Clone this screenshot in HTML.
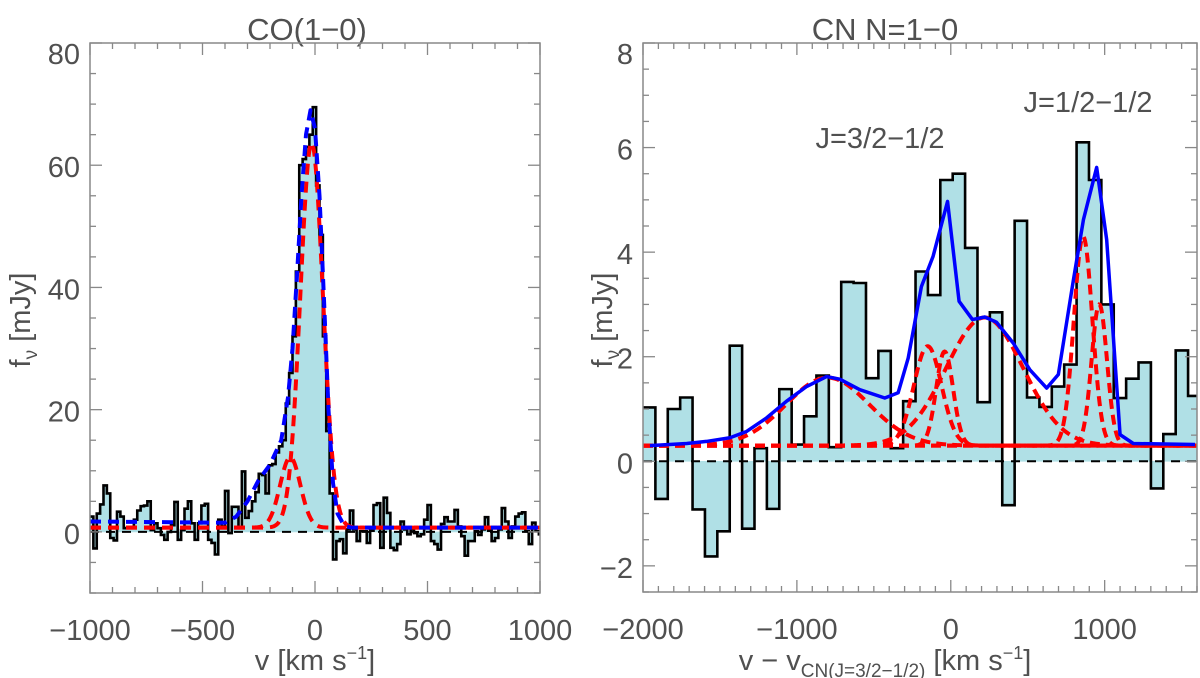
<!DOCTYPE html>
<html><head><meta charset="utf-8"><style>
html,body{margin:0;padding:0;background:#fff;}
svg{display:block;font-family:"Liberation Sans","DejaVu Sans",sans-serif;}
.tl{font-size:29px;fill:#505050;}
</style></head><body>
<svg id="chart" width="1200" height="678" viewBox="0 0 1200 678" xmlns="http://www.w3.org/2000/svg">
<defs>
<clipPath id="clipL"><rect x="90" y="43" width="450" height="550"/></clipPath>
<clipPath id="clipR"><rect x="643" y="43" width="554" height="550"/></clipPath>
</defs>
<text x="307" y="40" text-anchor="middle" class="tl" style="font-size:31px">CO(1−0)</text>
<text x="885" y="40" text-anchor="middle" class="tl" style="font-size:31px">CN N=1−0</text>
<text x="880" y="148" text-anchor="middle" class="tl">J=3/2−1/2</text>
<text x="1088" y="112" text-anchor="middle" class="tl">J=1/2−1/2</text>
<text x="315" y="670" text-anchor="middle" class="tl">v [km s<tspan dy="-11" font-size="18">−1</tspan><tspan dy="11">]</tspan></text>
<text x="885" y="670" text-anchor="middle" class="tl">v − v<tspan dy="7" font-size="19">CN(J=3/2−1/2)</tspan><tspan dy="-7"> [km s</tspan><tspan dy="-11" font-size="18">−1</tspan><tspan dy="11">]</tspan></text>
<text transform="translate(30,320) rotate(-90)" text-anchor="middle" class="tl">f<tspan dy="7" font-size="19">ν</tspan><tspan dy="-7"> [mJy]</tspan></text>
<text transform="translate(612,320) rotate(-90)" text-anchor="middle" class="tl">f<tspan dy="7" font-size="19">ν</tspan><tspan dy="-7"> [mJy]</tspan></text>
<g id="gL" clip-path="url(#clipL)"></g>
<g id="gR" clip-path="url(#clipR)"></g>
<g id="axes"></g>
</svg>
<script>
// ---- CO(1-0) data ----
const coBinStart = -1000;
const coBinWidth = 15;
const coFlux = [2.5,-2.7,3,4.5,7.6,6.3,-1,-1.4,3.3,2.5,
0.6,0.8,0.8,2,3.5,4.2,4.3,5,0.3,1.4,
0.6,-0.5,-1.3,0,1.1,4.9,-1.3,0.3,3.8,5,
1.4,-1.3,1.4,4.3,4.6,-1.3,-1.8,-3.7,2,0.9,
6.7,-0.2,4.1,4.1,0.6,9.9,2.3,3.4,5,6.5,
9.5,9.3,6.3,10.9,11.1,13,14,
15,21,26,32,42.6,60,61,63,65,69.5,56.7,48.6,32,16.5,6.3,
-4.5,-1.5,-1.2,-3.5,0.4,3.5,0.4,-1.5,0.1,0.1,
-1.8,0.2,4.4,4.7,-2.6,5.6,3.1,-2.6,-3,-2,
1.7,0.4,-0.4,0.4,-0.2,-0.7,-0.4,2,4.4,-1.5,
-2,-2.9,1.3,2.4,1.7,1.7,3.6,0.9,-0.7,-3.9,
-1.5,-1.5,0.1,-0.5,0.4,2.4,0.2,-1.5,-1,0.4,
3.9,1.7,-1,0.9,2.5,3,3.2,0.1,-2,1.5,
0.1,-0.4];
const coFitV = [-1000,-400,-350,-300,-250,-200,-150,-120,-100,-80,-60,-40,-20,0,20,40,60,80,100,130,160,1000];
const coFitF = [1.7,1.5,2.5,5,8.5,11,15,22,30,42,55,65,69,66,55,38,20,8,3,1,0.7,0.7];
const coCompCenter = [-15,-110];
const coCompAmp = [63,11.5];
const coCompSigma = [50,45];
const coBaseline = 0.7;
// ---- CN data ----
const cnBinStart = -2000;
const cnBinWidth = 80.5;
const cnFlux = [1.03,-0.72,1.0,1.22,-0.92,-1.82,-1.34,2.21,-1.29,0.25,
-0.91,1.38,0.32,0.86,1.64,0.27,3.43,3.41,1.59,2.11,
0.25,1.15,3.63,3.18,5.38,5.5,4.08,1.13,2.85,-0.84,
4.6,1.22,1.04,1.43,1.85,6.1,5.38,3.0,1.21,1.58,
1.89,-0.52,0.52,2.12,1.25];
const cnFitV = [-1955,-1716,-1587,-1435,-1327,-1197,-1067,-937,-807,-721,-591,-429,-342,-277,-191,-115,-21,54,141,221,297,406,514,623,699,797,862,948,1013,1100,1186,1587];
const cnFitF = [0.3,0.34,0.38,0.45,0.57,0.83,1.15,1.43,1.62,1.57,1.37,1.21,1.31,1.97,3.34,3.92,4.97,3.06,2.71,2.76,2.66,2.26,1.75,1.4,1.66,3.47,4.62,5.62,4.24,0.51,0.34,0.32];
const cnCompCenter = [-800,-150,-40,220,860,965];
const cnCompAmp = [1.3,1.9,1.8,2.45,4.0,2.7];
const cnCompSigma = [270,90,55,250,60,50];
const cnBaseline = 0.3;

const NS='http://www.w3.org/2000/svg';
function mk(tag, attrs, parent){const e=document.createElementNS(NS,tag);for(const k in attrs)e.setAttribute(k,attrs[k]);parent.appendChild(e);return e;}
const L={x0:90,x1:540,y0:593,y1:43,vmin:-1000,vmax:1000,fmin:-10,fmax:80};
const R={x0:643,x1:1197,y0:592,y1:43,vmin:-2000,vmax:1600,fmin:-2.5,fmax:8};
function sx(p,v){return p.x0+(v-p.vmin)/(p.vmax-p.vmin)*(p.x1-p.x0);}
function sy(p,f){return p.y0-(f-p.fmin)/(p.fmax-p.fmin)*(p.y0-p.y1);}

function drawHist(p,g,start,w,vals,name){
  let d='', fill='';
  const y0=sy(p,0);
  for(let i=0;i<vals.length;i++){
    const xa=sx(p,start+i*w), xb=sx(p,start+(i+1)*w), y=sy(p,vals[i]);
    fill+=`M${xa},${y0}L${xa},${y}L${xb},${y}L${xb},${y0}Z`;
    d+=(i===0?`M${xa},${y}`:`L${xa},${y}`)+`L${xb},${y}`;
  }
  const f=mk('path',{d:fill,fill:'#b0e0e6',stroke:'#b0e0e6','stroke-width':0.6},g);
  
  
  const o=mk('path',{d:d,fill:'none',stroke:'#000','stroke-width':2.6},g);
  
  
}
function drawZero(p,g,name){
  const l=mk('line',{x1:p.x0,x2:p.x1,y1:sy(p,0),y2:sy(p,0),stroke:'#000','stroke-width':2,'stroke-dasharray':'9 7'},g);
  
  
}
function drawComps(p,g,cs,as,ss,base,name,sw,dash){
  for(let k=0;k<cs.length;k++){
    let pts=[];
    for(let v=p.vmin;v<=p.vmax;v+=4){pts.push(sx(p,v)+','+sy(p,base+as[k]*Math.exp(-((v-cs[k])**2)/(2*ss[k]*ss[k]))));}
    const pl=mk('polyline',{points:pts.join(' '),fill:'none',stroke:'#ff0000','stroke-width':sw,'stroke-dasharray':dash},g);
    
    
  }
}
function drawLine(p,g,vs,fs,color,sw,dash,name){
  const pts=vs.map((v,i)=>sx(p,v)+','+sy(p,fs[i])).join(' ');
  const a={points:pts,fill:'none',stroke:color,'stroke-width':sw,'stroke-linejoin':'round'};
  if(dash)a['stroke-dasharray']=dash;
  const pl=mk('polyline',a,g);
  
  
}
function drawAxes(p,g,xMaj,xMin,yMaj,yMin,xLabels,yLabels,name){
  const ax=document.createElementNS(NS,'g');g.appendChild(ax);
  
  
  mk('rect',{x:p.x0,y:p.y1,width:p.x1-p.x0,height:p.y0-p.y1,fill:'none',stroke:'#888','stroke-width':1.5},ax);
  const st={stroke:'#888','stroke-width':1.3};
  for(let v=Math.ceil(p.vmin/xMin)*xMin;v<=p.vmax+1e-6;v+=xMin){
    const x=sx(p,v), major=Math.abs(v/xMaj-Math.round(v/xMaj))<1e-6, len=major?12:6;
    mk('line',Object.assign({x1:x,x2:x,y1:p.y0,y2:p.y0-len},st),ax);
    mk('line',Object.assign({x1:x,x2:x,y1:p.y1,y2:p.y1+len},st),ax);
  }
  for(let f=Math.ceil(p.fmin/yMin)*yMin;f<=p.fmax+1e-6;f+=yMin){
    const y=sy(p,f), major=Math.abs(f/yMaj-Math.round(f/yMaj))<1e-6, len=major?12:6;
    mk('line',Object.assign({x1:p.x0,x2:p.x0+len,y1:y,y2:y},st),ax);
    mk('line',Object.assign({x1:p.x1,x2:p.x1-len,y1:y,y2:y},st),ax);
  }
  xLabels.forEach(v=>{const t=mk('text',{x:sx(p,v),y:p.y0+47,'text-anchor':'middle',class:'tl'},ax);t.textContent=(v<0?'−':'')+Math.abs(v);
    
    });
  yLabels.forEach(f=>{const y=sy(p,f);const t=mk('text',{x:p.x0-10,y:(f===yLabels[yLabels.length-1]?y+21:y+12),'text-anchor':'end',class:'tl'},ax);t.textContent=(f<0?'−':'')+Math.abs(f);
    
    });
}
const gL=document.getElementById('gL'), gR=document.getElementById('gR'), axes=document.getElementById('axes');
drawHist(L,gL,coBinStart,coBinWidth,coFlux,'co-histogram');
drawZero(L,gL,'co-zero-line');
drawComps(L,gL,coCompCenter,coCompAmp,coCompSigma,coBaseline,'co-red-component',4,'11 7');
drawLine(L,gL,coFitV,coFitF,'#0000ff',4,'11 7','co-blue-total-fit');
drawHist(R,gR,cnBinStart,cnBinWidth,cnFlux,'cn-histogram');
drawZero(R,gR,'cn-zero-line');
drawComps(R,gR,cnCompCenter,cnCompAmp,cnCompSigma,cnBaseline,'cn-red-component',4,'10 6');
drawLine(R,gR,cnFitV,cnFitF,'#0000ff',3.5,null,'cn-blue-total-fit');
drawAxes(L,axes,500,100,20,5,[-1000,-500,0,500,1000],[0,20,40,60,80],'co-axes');
drawAxes(R,axes,1000,100,2,0.5,[-2000,-1000,0,1000],[-2,0,2,4,6,8],'cn-axes');
</script>
</body></html>
